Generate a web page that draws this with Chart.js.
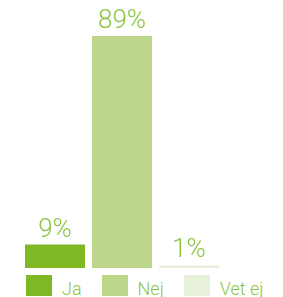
<!DOCTYPE html>
<html>
<head>
<meta charset="utf-8">
<script src="https://cdn.jsdelivr.net/npm/chart.js@4.4.1/dist/chart.umd.min.js"></script>
<style>
  html, body { margin: 0; padding: 0; background: #fff; }
  #container { position: relative; width: 283px; height: 297px; }
  #chartbox { position: absolute; left: 0; top: 0; width: 283px; height: 268px; }
  #legend { position: absolute; left: 26px; top: 275px; display: flex; font: 300 18px Roboto, sans-serif; color: #8bc541; }
  .item { display: flex; margin-right: 20px; }
  .box { width: 26px; height: 21px; margin-right: 10px; }
  .txt { line-height: 21px; position: relative; top: 3px; white-space: nowrap; }
</style>
</head>
<body>
<div id="container">
  <div id="chartbox"><canvas id="chartcanvas"></canvas></div>
  <div id="legend"></div>
</div>
<script>
var categories = ['Ja', 'Nej', 'Vet ej'];
var values = [9, 89, 1];
var colors = ['#80b823', '#bcd789', '#e7f0d8'];
var labelColor = '#8bc541';

// procent-etiketter ovanför staplarna
var valueLabels = {
    id: 'valueLabels',
    afterDatasetsDraw: function (chart) {
        var c = chart.ctx;
        var meta = chart.getDatasetMeta(0);
        c.save();
        c.font = '300 26px Roboto, sans-serif';
        c.fillStyle = labelColor;
        c.textAlign = 'center';
        c.textBaseline = 'alphabetic';
        meta.data.forEach(function (bar, i) {
            c.fillText(values[i] + '%', bar.x, bar.y - 8);
        });
        c.restore();
    }
};

var ctx = document.getElementById('chartcanvas');
var myChart = new Chart(ctx, {
    type: 'bar',
    data: {
        labels: categories,
        datasets: [{
            data: values,
            backgroundColor: colors,
            borderWidth: 0,
            barPercentage: 1,
            categoryPercentage: 60 / 67,
        }],
    },
    options: {
        responsive: true,
        maintainAspectRatio: false,
        animation: false,
        layout: {
            padding: { left: 21.5, right: 60.5, top: 7.3, bottom: 0 },
        },
        plugins: {
            legend: { display: false },
            tooltip: { enabled: false },
        },
        scales: {
            x: { display: false },
            y: { display: false, min: 0, max: 100 },
        },
    },
    plugins: [valueLabels],
});

// legend i html
var legendBox = document.getElementById('legend');
categories.forEach(function (name, i) {
    var item = document.createElement('div');
    item.className = 'item';
    var box = document.createElement('div');
    box.className = 'box';
    box.style.background = colors[i];
    var txt = document.createElement('span');
    txt.className = 'txt';
    txt.textContent = name;
    item.appendChild(box);
    item.appendChild(txt);
    legendBox.appendChild(item);
});
</script>
</body>
</html>
